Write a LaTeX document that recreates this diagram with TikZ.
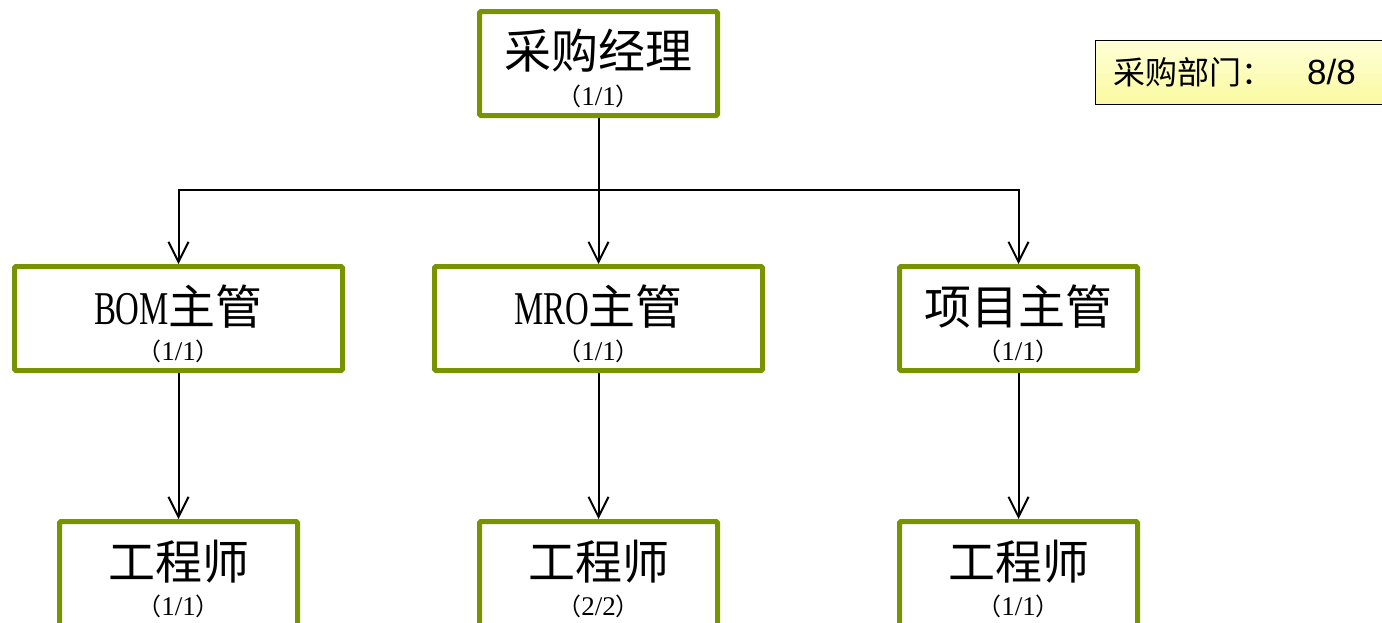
\documentclass[tikz,border=0pt]{standalone}
\usepackage{fontspec}
\setmainfont{Liberation Serif}
\newfontfamily\cjk{Noto Sans CJK SC}
\newfontfamily\arialf{Liberation Sans}
\usetikzlibrary{arrows.meta}
\definecolor{boxgreen}{RGB}{119,147,0}
\definecolor{lblTop}{RGB}{255,255,215}
\definecolor{lblBot}{RGB}{250,250,160}
\newcommand{\pr}[1]{{\cjk\fontsize{24}{28}\selectfont （}#1{\cjk\fontsize{24}{28}\selectfont ）}}
\begin{document}
\begin{tikzpicture}[x=1pt,y=-1pt,
 box/.style={draw=boxgreen,line width=5pt,fill=white,inner sep=0pt,rounded corners=1.5pt},
 mainlbl/.style={inner sep=0pt,font=\fontsize{47}{50}\selectfont},
 sublbl/.style={inner sep=0pt,font=\fontsize{27}{30}\selectfont},
 conn/.style={line width=2pt,-{Straight Barb[length=20pt,width=20pt]}},
 plain/.style={line width=2pt}
]
\useasboundingbox (0,0) rectangle (1382,622);
\clip (0,0) rectangle (1382,622);
\fill[white] (0,0) rectangle (1382,622);

% boxes
\node[box, minimum width=238pt, minimum height=104pt] (top) at (598.5,63.5) {};
\node[box, minimum width=328pt, minimum height=104pt] (bom) at (178.5,318.5) {};
\node[box, minimum width=328pt, minimum height=104pt] (mro) at (598.5,318.5) {};
\node[box, minimum width=238pt, minimum height=104pt] (proj) at (1018.5,318.5) {};
\node[box, minimum width=238pt, minimum height=120pt] (eng1) at (178.5,581.5) {};
\node[box, minimum width=238pt, minimum height=120pt] (eng2) at (598.5,581.5) {};
\node[box, minimum width=238pt, minimum height=120pt] (eng3) at (1018.5,581.5) {};

% labels
\node[mainlbl] (topT) at (598.5,51) {\cjk 采购经理};
\node[sublbl] (topS) at (598.5,96) {\pr{1/1}};
\node[mainlbl] (bomT) at (178.5,307) {\scalebox{0.7}[1]{BOM}\cjk 主管};
\node[sublbl] (bomS) at (178.5,351) {\pr{1/1}};
\node[mainlbl] (mroT) at (598.5,307) {\scalebox{0.7}[1]{MRO}\cjk 主管};
\node[sublbl] (mroS) at (598.5,351) {\pr{1/1}};
\node[mainlbl] (projT) at (1018.5,307) {\cjk 项目主管};
\node[sublbl] (projS) at (1018.5,351) {\pr{1/1}};
\node[mainlbl] (eng1T) at (178.5,562) {\cjk 工程师};
\node[sublbl] (eng1S) at (178.5,606) {\pr{1/1}};
\node[mainlbl] (eng2T) at (598.5,562) {\cjk 工程师};
\node[sublbl] (eng2S) at (598.5,606) {\pr{2/2}};
\node[mainlbl] (eng3T) at (1018.5,562) {\cjk 工程师};
\node[sublbl] (eng3S) at (1018.5,606) {\pr{1/1}};

% department label
\node[draw=black, line width=1.5pt, top color=lblTop, bottom color=lblBot,
      minimum width=300pt, minimum height=64pt, inner sep=0pt, anchor=west] (dept) at (1094.5,72.5) {};
\node[inner sep=0pt, anchor=west, font=\fontsize{32}{36}\selectfont] (deptT) at (1113,72.5)
  {{\cjk 采购部门：}\hspace{34pt}{\arialf\fontsize{35}{38}\selectfont 8/8}};

% connectors
\coordinate (hub) at (598.5,190);
\draw[plain] (top.south) -- (hub);
\draw[conn] (hub) -| (bom.north);
\draw[conn] (hub) -| (proj.north);
\draw[conn] (hub) -- (mro.north);
\draw[conn] (bom.south) -- (eng1.north);
\draw[conn] (mro.south) -- (eng2.north);
\draw[conn] (proj.south) -- (eng3.north);
\end{tikzpicture}
\end{document}
